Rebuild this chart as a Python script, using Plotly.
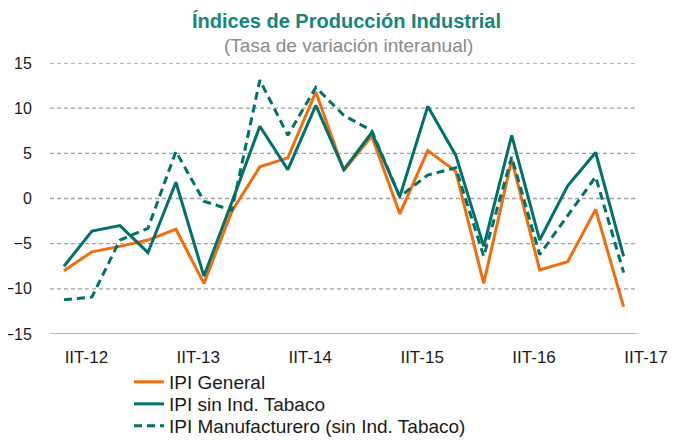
import plotly.graph_objects as go

periods = ["IIT-12", "IIIT-12", "IVT-12", "IT-13", "IIT-13", "IIIT-13", "IVT-13", "IT-14",
           "IIT-14", "IIIT-14", "IVT-14", "IT-15", "IIT-15", "IIIT-15", "IVT-15", "IT-16",
           "IIT-16", "IIIT-16", "IVT-16", "IT-17", "IIT-17"]
tick_labels = ["IIT-12", "IIT-13", "IIT-14", "IIT-15", "IIT-16", "IIT-17"]

ipi_general = [-8.0, -5.9, -5.3, -4.6, -3.4, -9.4, -1.4, 3.5, 4.5, 11.8, 3.1, 6.9,
               -1.7, 5.3, 3.0, -9.4, 4.3, -7.9, -7.0, -1.2, -12.0]
ipi_sin_tabaco = [-7.5, -3.6, -3.0, -6.0, 1.8, -8.6, -0.4, 8.0, 3.2, 10.3, 3.2, 7.3,
                  0.2, 10.2, 4.8, -5.3, 7.0, -4.6, 1.4, 5.1, -6.4]
ipi_manuf = [-11.2, -10.9, -4.6, -3.3, 5.2, -0.3, -1.3, 13.1, 7.0, 12.3, 9.2, 7.5,
             0.2, 2.6, 3.4, -6.4, 4.6, -6.2, -1.9, 2.4, -8.2]

ORANGE = "#F36C0C"
TEAL = "#00716A"
FONT = "Liberation Sans, Arial, sans-serif"
TXT = "#1A1A1A"

# page body has an 8px margin: lay out in page pixels minus this offset
OFF = 8
W, H = 682 - OFF, 441 - OFF
PL, PR, PT, PB = 50 - OFF, 660 - OFF, 63 - OFF, 334 - OFF  # plot area
PW, PH = PR - PL, PB - PT

x = list(range(len(periods)))

fig = go.Figure()
fig.add_trace(go.Scatter(x=x, y=ipi_general, mode="lines", name="IPI General",
                         line=dict(color=ORANGE, width=3), customdata=periods,
                         legend="legend"))
fig.add_trace(go.Scatter(x=x, y=ipi_sin_tabaco, mode="lines", name="IPI sin Ind. Tabaco",
                         line=dict(color=TEAL, width=3), customdata=periods,
                         legend="legend2"))
fig.add_trace(go.Scatter(x=x, y=ipi_manuf, mode="lines", name="IPI Manufacturero (sin Ind. Tabaco)",
                         line=dict(color=TEAL, width=3, dash="8px,5px"), customdata=periods,
                         legend="legend3"))

# horizontal grid lines (dashed) and solid baseline
x0, x1 = -0.5, len(periods) - 0.5
for v in [15, 10, 5, 0, -5, -10]:
    fig.add_shape(type="line", xref="x", yref="y", x0=x0, x1=x1, y0=v, y1=v,
                  line=dict(color="#A0A0A0", width=1.3, dash="4px,3px"), layer="below")
fig.add_shape(type="line", xref="x", yref="y", x0=x0, x1=x1, y0=-15, y1=-15,
              line=dict(color="#A0A0A0", width=1.5), layer="below")

tick_pos = [periods.index(t) + 0.8 for t in tick_labels]


def leg(ypix):
    return dict(x=(129 - OFF - PL) / PW, y=(PB - (ypix - OFF)) / PH,
                xanchor="left", yanchor="middle", font=dict(family=FONT, size=19, color=TXT),
                bgcolor="rgba(0,0,0,0)", itemwidth=30)


fig.update_layout(
    width=W, height=H,
    margin=dict(l=PL, r=W - PR, t=PT, b=H - PB, autoexpand=False),
    paper_bgcolor="white", plot_bgcolor="white",
    font=dict(family=FONT, size=17, color=TXT),
    showlegend=True,
    legend=leg(382), legend2=leg(404), legend3=leg(426),
    xaxis=dict(range=[x0, x1 + 0.8], tickvals=tick_pos, ticktext=tick_labels,
               showgrid=False, zeroline=False, showline=False, tickangle=0,
               ticks="outside", ticklen=8, tickcolor="rgba(0,0,0,0)",
               tickfont=dict(size=17, color=TXT)),
    yaxis=dict(range=[-15, 15], tickvals=[-15, -10, -5, 0, 5, 10, 15],
               showgrid=False, zeroline=False, showline=False,
               ticks="outside", ticklen=14, tickcolor="rgba(0,0,0,0)",
               tickfont=dict(size=16, color=TXT)),
    annotations=[
        dict(text="<b>Índices de Producción Industrial</b>", xref="paper", yref="paper",
             x=(346 - OFF - PL) / PW, y=(PB - (21 - OFF)) / PH, xanchor="center", yanchor="middle",
             showarrow=False, font=dict(family=FONT, size=20, color="#16857A")),
        dict(text="(Tasa de variación interanual)", xref="paper", yref="paper",
             x=(348 - OFF - PL) / PW, y=(PB - (46 - OFF)) / PH, xanchor="center", yanchor="middle",
             showarrow=False, font=dict(family=FONT, size=19, color="#8A8A8A")),
    ],
)

fig.write_html("out.html")
